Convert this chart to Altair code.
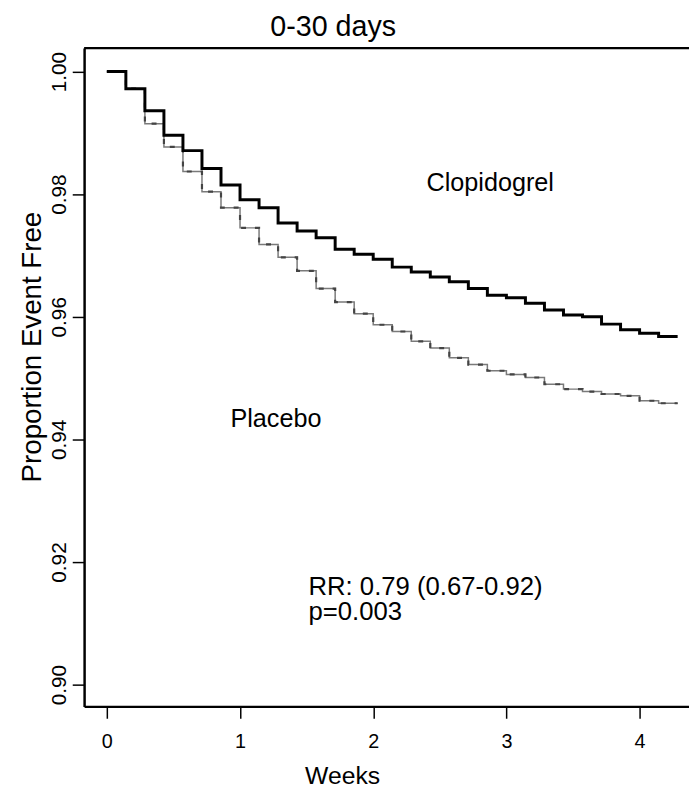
import altair as alt
import pandas as pd

# Kaplan-Meier survival (proportion event free), one step per day, 0-30 days
days = list(range(31))
clopidogrel = [1.0, 0.9972, 0.9936, 0.9896, 0.9871, 0.9842, 0.9815, 0.9791, 0.9778,
               0.9753, 0.9740, 0.9729, 0.9710, 0.9702, 0.9694, 0.9681, 0.9673, 0.9665,
               0.9657, 0.9646, 0.9635, 0.9631, 0.9622, 0.9611, 0.9603, 0.9600, 0.9588,
               0.9579, 0.9573, 0.9568, 0.9568]
placebo = [1.0, 0.9972, 0.9915, 0.9877, 0.9837, 0.9804, 0.9778, 0.9745, 0.9718,
           0.9697, 0.9675, 0.9646, 0.9624, 0.9605, 0.9587, 0.9576, 0.9560, 0.9549,
           0.9533, 0.9522, 0.9512, 0.9506, 0.9501, 0.9490, 0.9482, 0.9478, 0.9474,
           0.9471, 0.9463, 0.9459, 0.9459]

x_ticks = [0, 1, 2, 3, 4]
y_ticks = [0.90, 0.92, 0.94, 0.96, 0.98, 1.00]

title_text = ["0-30 days"]
label_text = ["Clopidogrel", "Placebo"]
label_x = [2.40, 0.928]
label_y = [0.98044, 0.94208]
stat_text = ["RR: 0.79 (0.67-0.92)", "p=0.003"]
stat_x = [1.514, 1.514]
stat_y = [0.91467, 0.91048]

rows = []
for d, c, p in zip(days, clopidogrel, placebo):
    rows.append({"weeks": d / 7, "S": c, "group": "Clopidogrel"})
    rows.append({"weeks": d / 7, "S": p, "group": "Placebo"})
df = pd.DataFrame(rows)
labels = pd.DataFrame({"weeks": label_x, "S": label_y, "label": label_text})
stats = pd.DataFrame({"weeks": stat_x, "S": stat_y, "label": stat_text})

FONT = "Liberation Sans"
W, H = 612, 666

xscale = alt.Scale(domain=[-0.1707, 4.371], nice=False, zero=False)
yscale = alt.Scale(domain=[0.89645, 1.00382], nice=False, zero=False)

xaxis = alt.Axis(values=x_ticks, format="d", title="Weeks", grid=False,
                 domainColor="black", domainWidth=2.5, tickColor="black",
                 tickWidth=1.5, tickSize=12, labelFont=FONT, labelFontSize=20,
                 labelColor="black", labelPadding=14, labelOverlap=False,
                 titleFont=FONT, titleFontSize=25, titleFontWeight="normal",
                 titleColor="black", titleX=261, titleY=78,
                 titleBaseline="alphabetic", titleAlign="center")
yaxis = alt.Axis(values=y_ticks, format=".2f", title="Proportion Event Free",
                 grid=False, domainColor="black", domainWidth=2.5,
                 tickColor="black", tickWidth=1.5, tickSize=12,
                 labelFont=FONT, labelFontSize=21, labelColor="black",
                 labelAngle=270, labelAlign="center", labelBaseline="bottom",
                 labelPadding=3, labelOverlap=False,
                 titleFont=FONT, titleFontSize=28, titleFontWeight="normal",
                 titleColor="black", titleAngle=270, titleX=-52, titleY=302,
                 titleAlign="center", titleBaseline="middle")

base = alt.Chart(df)
plac = base.transform_filter(alt.datum.group == "Placebo").mark_line(
    interpolate="step-after", color="#7a7a7a", strokeWidth=1.5
).encode(
    x=alt.X("weeks:Q", scale=xscale, axis=xaxis),
    y=alt.Y("S:Q", scale=yscale, axis=yaxis),
)
plac_dash = base.transform_filter(alt.datum.group == "Placebo").mark_line(
    interpolate="step-after", color="#444444", strokeWidth=2.2,
    strokeDash=[5, 9]
).encode(
    x=alt.X("weeks:Q", scale=xscale),
    y=alt.Y("S:Q", scale=yscale),
)
clop = base.transform_filter(alt.datum.group == "Clopidogrel").mark_line(
    interpolate="step-after", color="black", strokeWidth=3
).encode(
    x=alt.X("weeks:Q", scale=xscale),
    y=alt.Y("S:Q", scale=yscale),
)
top_border = alt.Chart(pd.DataFrame({"k": [0]})).mark_rule(
    color="black", strokeWidth=2.5
).encode(x=alt.value(0), x2=alt.value(W), y=alt.value(0))

label_marks = alt.Chart(labels).mark_text(
    align="left", baseline="alphabetic", font=FONT, fontSize=25.5, color="black"
).encode(
    x=alt.X("weeks:Q", scale=xscale),
    y=alt.Y("S:Q", scale=yscale),
    text="label:N",
)
stat_marks = alt.Chart(stats).mark_text(
    align="left", baseline="alphabetic", font=FONT, fontSize=26, color="black"
).encode(
    x=alt.X("weeks:Q", scale=xscale),
    y=alt.Y("S:Q", scale=yscale),
    text="label:N",
)

title = alt.Chart(pd.DataFrame({"t": title_text})).mark_text(
    align="center", baseline="alphabetic", font=FONT, fontSize=29, color="black"
).encode(text="t:N", x=alt.value(252), y=alt.value(-12))

chart = alt.layer(plac, plac_dash, clop, top_border, label_marks, stat_marks,
                  title).properties(
    width=W, height=H,
    autosize="none",
    padding={"left": 77, "top": 36, "right": 0, "bottom": 80},
).configure_view(stroke=None).configure(background="white")

chart.save("out.html", embed_options={"renderer": "svg", "actions": False})
